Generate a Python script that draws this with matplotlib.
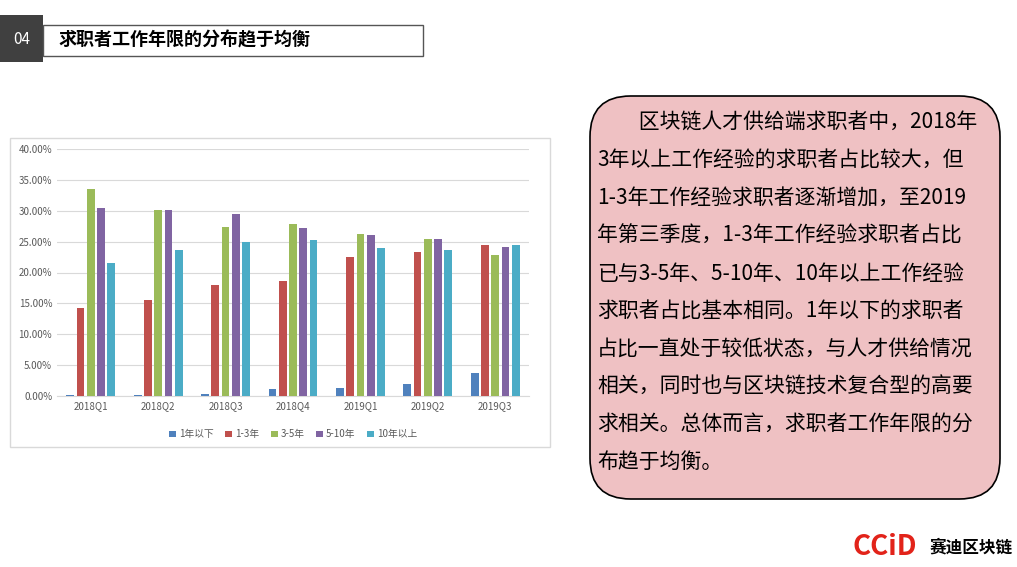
import matplotlib
matplotlib.use("Agg")
import matplotlib.pyplot as plt
import numpy as np
from matplotlib.patches import Rectangle, FancyBboxPatch

plt.rcParams['font.family'] = ['Noto Sans CJK SC', 'DejaVu Sans']

quarters = ["2018Q1", "2018Q2", "2018Q3", "2018Q4", "2019Q1", "2019Q2", "2019Q3"]
series_names = ["1年以下", "1-3年", "3-5年", "5-10年", "10年以上"]
lt1 = [0.2, 0.2, 0.4, 1.2, 1.3, 2.0, 3.7]
y1_3 = [14.3, 15.6, 17.9, 18.7, 22.5, 23.3, 24.4]
y3_5 = [33.6, 30.2, 27.3, 27.8, 26.2, 25.5, 22.9]
y5_10 = [30.4, 30.2, 29.5, 27.2, 26.0, 25.5, 24.2]
gt10 = [21.5, 23.7, 24.9, 25.2, 23.9, 23.7, 24.4]
colors = ["#4f81bd", "#c0504d", "#9bbb59", "#8064a2", "#4bacc6"]

paragraph = ("　　区块链人才供给端求职者中，2018年\n"
             "3年以上工作经验的求职者占比较大，但\n"
             "1-3年工作经验求职者逐渐增加，至2019\n"
             "年第三季度，1-3年工作经验求职者占比\n"
             "已与3-5年、5-10年、10年以上工作经验\n"
             "求职者占比基本相同。1年以下的求职者\n"
             "占比一直处于较低状态，与人才供给情况\n"
             "相关，同时也与区块链技术复合型的高要\n"
             "求相关。总体而言，求职者工作年限的分\n"
             "布趋于均衡。")

W, H = 1017, 567
fig = plt.figure(figsize=(W / 100, H / 100), dpi=100)


def box(x0, y0, x1, y1):
    # pixel box (top-left origin) -> figure fraction rect
    return [x0 / W, 1 - y1 / H, (x1 - x0) / W, (y1 - y0) / H]


# header
fig.patches.append(Rectangle((0, 1 - 62 / H), 43 / W, 47 / H, transform=fig.transFigure,
                             facecolor="#404040", edgecolor="none"))
fig.patches.append(Rectangle((43 / W, 1 - 56 / H), 380 / W, 31 / H, transform=fig.transFigure,
                             facecolor="white", edgecolor="#555555", lw=1))
fig.text(22 / W, 1 - 40 / H, "04", color="white", fontsize=11, ha="center", va="center")
fig.text(58 / W, 1 - 40 / H, "求职者工作年限的分布趋于均衡", fontsize=13, fontweight="bold",
         ha="left", va="center")

# chart frame
fig.patches.append(Rectangle((10 / W, 1 - 447 / H), 540 / W, 309 / H, transform=fig.transFigure,
                             facecolor="white", edgecolor="#d9d9d9", lw=1, zorder=0))

ax = fig.add_axes(box(57, 149, 529, 396))
ax.set_zorder(5)
ax.patch.set_alpha(0)
x = np.arange(len(quarters))
data = [lt1, y1_3, y3_5, y5_10, gt10]
bw = 0.115
gap = 0.152
for i, (vals, c, name) in enumerate(zip(data, colors, series_names)):
    ax.bar(x + (i - 2) * gap, np.array(vals) / 100, width=bw, color=c, label=name, zorder=3)
ax.set_ylim(0, 0.40)
ax.set_xlim(-0.5, len(quarters) - 0.5)
ax.set_yticks(np.arange(0, 0.401, 0.05))
ax.yaxis.set_major_formatter(matplotlib.ticker.FuncFormatter(lambda v, p: f"{v * 100:.2f}%"))
ax.set_xticks(x)
ax.set_xticklabels(quarters)
ax.tick_params(length=0, labelsize=7, colors="#595959")
ax.grid(axis="y", color="#d9d9d9", lw=0.8, zorder=0)
for s in ["top", "right", "left"]:
    ax.spines[s].set_visible(False)
ax.spines["bottom"].set_color("#d9d9d9")
ax.legend(loc="upper center", bbox_to_anchor=(0.5, -0.1), ncol=5, frameon=False,
          fontsize=7, handlelength=0.7, handleheight=0.7, handletextpad=0.3, columnspacing=1.2,
          labelcolor="#595959")

# text box
fig.patches.append(FancyBboxPatch((590 / W, 1 - 499 / H), 410 / W, 403 / H,
                                  boxstyle="round,pad=0,rounding_size=0.04",
                                  transform=fig.transFigure, facecolor="#efc1c3",
                                  edgecolor="black", lw=1.2, mutation_aspect=W / H))
fig.text(597 / W, 1 - 112 / H, paragraph, fontsize=15, ha="left", va="top", linespacing=1.92)

# logo
fig.text(852 / W, 1 - 547 / H, "CCiD", color="#e2231a", fontsize=20, fontweight="bold",
         ha="left", va="center")
fig.text(930 / W, 1 - 547 / H, "赛迪区块链", fontsize=12, fontweight="bold", ha="left", va="center")

fig.savefig("out.png", dpi=100)
